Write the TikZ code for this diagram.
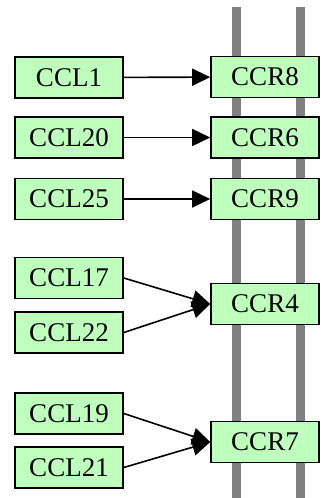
\documentclass[tikz,border=0pt]{standalone}
\usepackage{fontspec}
\setmainfont{Liberation Serif}
\usepackage{xcolor}
\usepackage{tikz}
\usetikzlibrary{arrows.meta,positioning}

\definecolor{boxgreen}{RGB}{190,255,190}
\definecolor{bargray}{RGB}{128,128,128}

\begin{document}
\begin{tikzpicture}[x=0.5pt, y=-0.5pt,
    gene/.style={draw, thick, fill=boxgreen, minimum width=54pt, minimum height=20.5pt,
        inner sep=0pt, font=\fontsize{13.5}{16}\selectfont},
    bar/.style={draw=bargray, line width=4.5pt},
    >={Triangle[length=9pt, width=8.5pt]}]
\useasboundingbox (0,0) rectangle (327,498);

% Membrane lines behind the receptors
\coordinate (b1top) at (236.5,7);
\coordinate (b1bot) at (236.5,498);
\coordinate (b2top) at (300,7);
\coordinate (b2bot) at (300,498);
\draw[bar] (b1top) -- (b1bot);
\draw[bar] (b2top) -- (b2bot);

% Ligands
\node[gene] (ccl1) at (69,77.5) {CCL1};
\node[gene] (ccl20) at (69,137.5) {CCL20};
\node[gene] (ccl25) at (69,199) {CCL25};
\node[gene] (ccl17) at (69,278) {CCL17};
\node[gene] (ccl22) at (69,332.5) {CCL22};
\node[gene] (ccl19) at (69,413.5) {CCL19};
\node[gene] (ccl21) at (69,467.5) {CCL21};

% Receptors
\node[gene] (ccr8) at (265,77) {CCR8};
\node[gene] (ccr6) at (265,137.5) {CCR6};
\node[gene] (ccr9) at (265,199) {CCR9};
\node[gene] (ccr4) at (265,304) {CCR4};
\node[gene] (ccr7) at (265,442) {CCR7};

% Binding
\draw[->, thick] (ccl1) -- (ccr8);
\draw[->, thick] (ccl20) -- (ccr6);
\draw[->, thick] (ccl25) -- (ccr9);
\draw[->, thick] (ccl17.east) -- (ccr4.west);
\draw[->, thick] (ccl22.east) -- (ccr4.west);
\draw[->, thick] (ccl19.east) -- (ccr7.west);
\draw[->, thick] (ccl21.east) -- (ccr7.west);
\end{tikzpicture}
\end{document}
